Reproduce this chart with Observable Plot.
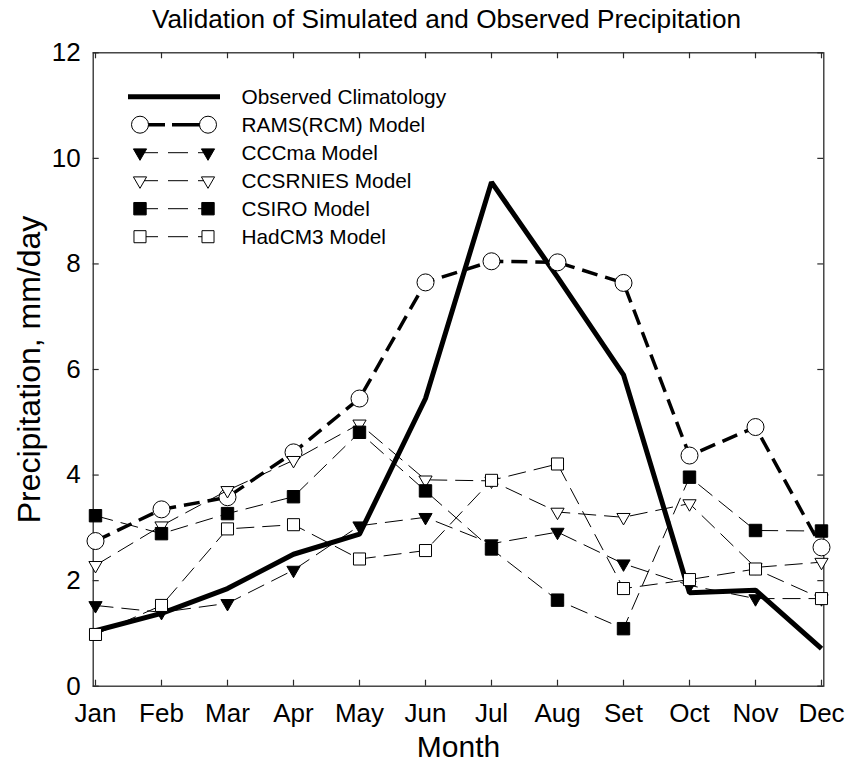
<!DOCTYPE html>
<html>
<head>
<meta charset="utf-8">
<script src="https://cdn.jsdelivr.net/npm/d3@7"></script>
<script src="https://cdn.jsdelivr.net/npm/@observablehq/plot@0.6"></script>
<style>
  body { margin: 0; background: #fff; }
  svg { display: block; }
</style>
</head>
<body>
<div id="chart"></div>
<script>
// Monthly mean precipitation (mm/day): observed climatology vs. model simulations
const months = ["Jan", "Feb", "Mar", "Apr", "May", "Jun", "Jul", "Aug", "Set", "Oct", "Nov", "Dec"];
const yTicks = [0, 2, 4, 6, 8, 10, 12];

const observed = [1.05, 1.38, 1.85, 2.50, 2.88, 5.45, 9.55, 7.75, 5.90, 1.77, 1.82, 0.71];
const rams     = [2.75, 3.35, 3.58, 4.43, 5.45, 7.65, 8.05, 8.03, 7.64, 4.37, 4.91, 2.63];
const cccma    = [1.53, 1.40, 1.57, 2.20, 3.04, 3.20, 2.70, 2.92, 2.32, 1.91, 1.66, 1.66];
const ccsrnies = [2.29, 3.04, 3.71, 4.28, 4.97, 3.91, 3.89, 3.30, 3.20, 3.46, 2.25, 2.35];
const csiro    = [3.23, 2.89, 3.27, 3.59, 4.81, 3.70, 2.60, 1.63, 1.09, 3.96, 2.95, 2.94];
const hadcm3   = [0.98, 1.53, 2.98, 3.06, 2.41, 2.57, 3.90, 4.21, 1.85, 2.02, 2.22, 1.66];

const seriesNames = [
  "Observed Climatology", "RAMS(RCM) Model", "CCCma Model",
  "CCSRNIES Model", "CSIRO Model", "HadCM3 Model"
];
const seriesValues = [observed, rams, cccma, ccsrnies, csiro, hadcm3];

// drawing style for each series (line + marker)
const styles = {
  "Observed Climatology": {strokeWidth: 5, dash: null, symbol: null},
  "RAMS(RCM) Model":      {strokeWidth: 3.5, dash: "16,8", legendDash: "25,7,40", symbol: "circle", r: 8.5, fill: "white", rotate: 0},
  "CCCma Model":          {strokeWidth: 1, dash: "18,8", legendDash: "18,10,20,10,20", symbol: "triangle", r: 4.9, fill: "black", rotate: 180},
  "CCSRNIES Model":       {strokeWidth: 1, dash: "18,8", legendDash: "18,10,20,10,20", symbol: "triangle", r: 4.9, fill: "white", rotate: 180},
  "CSIRO Model":          {strokeWidth: 1, dash: "18,8", legendDash: "18,10,20,10,20", symbol: "square", r: 7.0, fill: "black", rotate: 0},
  "HadCM3 Model":         {strokeWidth: 1, dash: "18,8", legendDash: "18,10,20,10,20", symbol: "square", r: 6.8, fill: "white", rotate: 0}
};

const rows = seriesNames.flatMap((name, k) =>
  months.map((m, i) => ({series: name, month: m, value: seriesValues[k][i]}))
);

const W = 849, H = 765;
const mL = 92.7, mR = 25.7, mT = 52.3, mB = 79.3;
const frameW = W - mL - mR, frameH = H - mT - mB;
const font = "'Liberation Sans', Arial, sans-serif";
const axisColor = "#2a2a2a";

const seriesMarks = seriesNames.flatMap(name => {
  const s = styles[name];
  const data = rows.filter(d => d.series === name);
  const marks = [
    Plot.line(data, {
      x: "month", y: "value", stroke: "black",
      strokeWidth: s.strokeWidth, strokeDasharray: s.dash,
      strokeLinejoin: "miter", strokeLinecap: "butt"
    })
  ];
  if (s.symbol) {
    marks.push(Plot.dot(data, {
      x: "month", y: "value", symbol: s.symbol, r: s.r,
      fill: s.fill, stroke: "black", strokeWidth: 1, rotate: s.rotate
    }));
  }
  return marks;
});

const chart = Plot.plot({
  width: W, height: H,
  marginLeft: mL, marginRight: mR, marginTop: mT, marginBottom: mB,
  style: {fontFamily: font, background: "white", color: "black"},
  x: {type: "point", domain: months, padding: 0, axis: null},
  y: {domain: [0, 12], axis: null},
  marks: [
    // inward tick marks on all four sides
    Plot.tickX(months, {x: d => d, insetTop: frameH - 6, stroke: axisColor, strokeWidth: 1.2}),
    Plot.tickX(months, {x: d => d, insetBottom: frameH - 6, stroke: axisColor, strokeWidth: 1.2}),
    Plot.tickY(yTicks, {y: d => d, insetRight: frameW - 6, stroke: axisColor, strokeWidth: 1.2}),
    Plot.tickY(yTicks, {y: d => d, insetLeft: frameW - 6, stroke: axisColor, strokeWidth: 1.2}),
    Plot.frame({stroke: axisColor, strokeWidth: 1.3}),
    Plot.axisX({ticks: months, tickSize: 0, tickPadding: 17, fontSize: 26, label: null, lineAnchor: "top"}),
    Plot.axisY({ticks: yTicks, tickSize: 0, tickPadding: 12.5, fontSize: 26, label: null}),
    ...seriesMarks,
    Plot.text(["Validation of Simulated and Observed Precipitation"], {
      frameAnchor: "top", textAnchor: "middle", dx: -12, dy: -33.5, fontSize: 26.2, lineAnchor: "middle", fill: "black"
    }),
    Plot.text(["Month"], {
      frameAnchor: "bottom", textAnchor: "middle", dy: 61.5, fontSize: 30, lineAnchor: "middle", fill: "black"
    }),
    Plot.text(["Precipitation, mm/day"], {
      frameAnchor: "left", textAnchor: "middle", dx: -63.5, rotate: -90, fontSize: 32, lineAnchor: "middle", fill: "black"
    })
  ]
});

document.getElementById("chart").append(chart);

// legend drawn inside the plotting frame, top-left
const svg = d3.select(chart.tagName.toLowerCase() === "svg" ? chart : chart.querySelector("svg"));
const lg = svg.append("g").attr("class", "legend").attr("text-anchor", "start");
const symbolTypes = {circle: d3.symbolCircle, triangle: d3.symbolTriangle, square: d3.symbolSquare};
seriesNames.forEach((name, i) => {
  const s = styles[name];
  const cy = 96.7 + i * 28;
  const row = lg.append("g").attr("transform", `translate(0,${cy})`);
  if (!s.symbol) {
    row.append("line").attr("x1", 128).attr("x2", 220).attr("y1", 0).attr("y2", 0)
      .attr("stroke", "black").attr("stroke-width", s.strokeWidth);
  } else {
    row.append("line").attr("x1", 140).attr("x2", 208).attr("y1", 0).attr("y2", 0)
      .attr("stroke", "black").attr("stroke-width", s.strokeWidth)
      .attr("stroke-dasharray", s.legendDash);
    const path = d3.symbol(symbolTypes[s.symbol], Math.PI * s.r * s.r)();
    [140, 208].forEach(x => {
      row.append("path").attr("d", path)
        .attr("transform", `translate(${x},0) rotate(${s.rotate})`)
        .attr("fill", s.fill).attr("stroke", "black").attr("stroke-width", 1);
    });
  }
  row.append("text").attr("x", 241.5).attr("y", 0).attr("dy", "0.35em")
    .attr("text-anchor", "start")
    .attr("font-family", font).attr("font-size", 20.8).attr("fill", "black")
    .text(name);
});
</script>
</body>
</html>
